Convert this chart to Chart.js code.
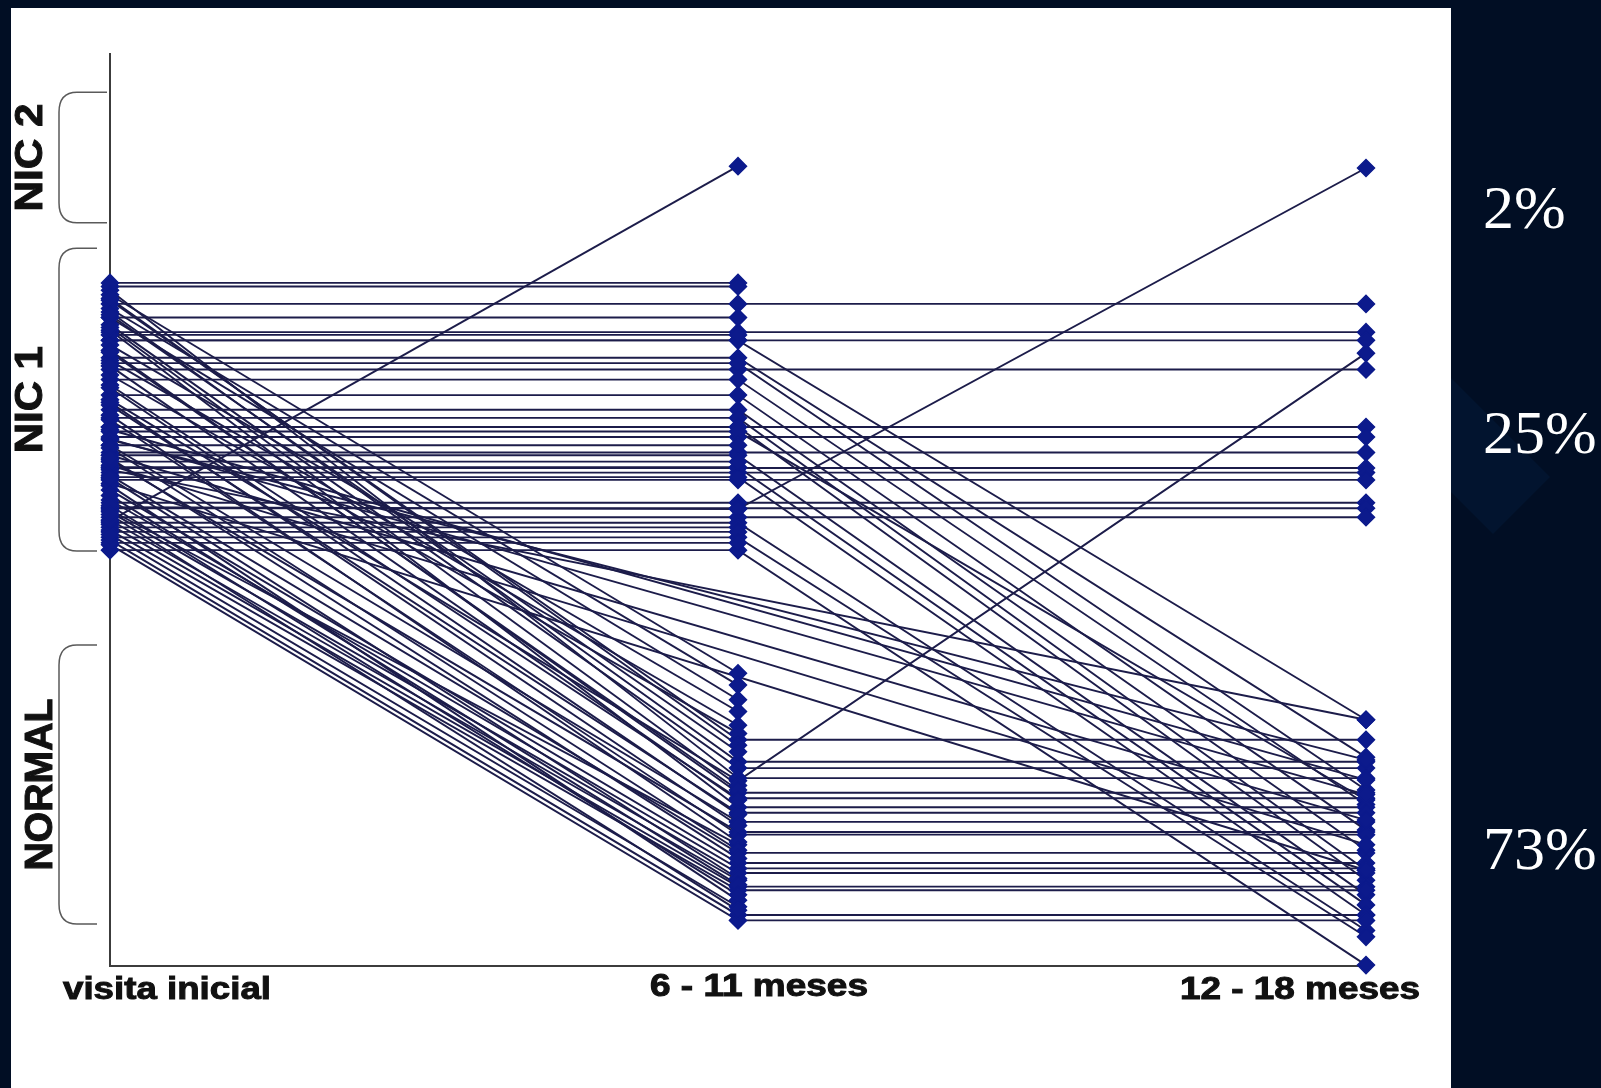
<!DOCTYPE html>
<html>
<head>
<meta charset="utf-8">
<script src="https://cdn.jsdelivr.net/npm/chart.js@4.4.0/dist/chart.umd.min.js"></script>
<style>
  html, body { margin: 0; padding: 0; width: 1601px; height: 1088px; overflow: hidden; background: #010e24; }
  #bg { position: absolute; left: 0; top: 0; }
  #panel { position: absolute; left: 11px; top: 8px; width: 1440px; height: 1080px; background: #fff; }
  #wrap { position: absolute; left: 0; top: 0; width: 1601px; height: 1088px; }
</style>
</head>
<body>
<svg id="bg" width="1601" height="1088"><polygon points="1451,378 1550,477 1493,534 1451,492" fill="#02142f"/></svg>
<div id="panel"></div>
<div id="wrap"><canvas id="chart" width="1601" height="1088"></canvas></div>

<script>
// Evolution of each patient between visits (0 = bottom of axis, 100 = top)

const VISITS = ['visita inicial', '6 - 11 meses', '12 - 18 meses'];

// one entry per patient, null = no visit
const VISITA_INICIAL = [
  72.6, 69.5, 68.6, 65.4, 59.1, 58.0, 56.3, 54.6, 54.1, 53.3, 50.8, 50.2, 49.2,
  48.8, 50.3, 62.1,
  68.6, 66.7, 66.1, 64.3, 62.6, 61.0, 60.1, 59.1, 56.0, 54.7, 53.6, 48.6, 47.0, 45.6, 58.6,
  73.0, 71.7, 70.3, 74.1, 67.5, 63.7, 69.7, 61.5, 57.1, 55.5, 59.9, 53.8, 52.2, 51.1, 49.8, 48.4, 47.8, 46.7, 46.2,
  54.4, 57.7, 58.8, 57.8, 56.0, 54.9, 52.9,
  74.9, 74.5, 71.1, 69.2, 57.1, 55.3, 48.1, 47.6, 46.4,
  73.6, 72.1, 71.1, 68.1, 66.4, 64.8, 50.0, 47.3, 48.9, 52.7,
  73.2, 71.4, 70.0, 67.3, 65.8, 63.4, 61.8, 60.4, 56.8, 55.7, 53.5, 51.6, 50.5, 49.5,
];
const MESES_6_11 = [
  72.6, 69.5, 68.6, 65.4, 59.1, 58.0, 56.3, 54.6, 54.1, 53.3, 50.8, 50.2, 49.2,
  87.7, 50.1, 20.3,
  68.6, 66.7, 66.1, 64.3, 62.6, 61.0, 60.1, 59.1, 56.0, 54.7, 53.6, 48.6, 47.0, 45.6, 58.6,
  24.8, 22.4, 21.7, 20.6, 19.0, 18.4, 17.4, 16.8, 15.8, 14.7, 14.4, 12.4, 11.3, 10.7, 10.2, 8.7, 8.3, 5.6, 5.0,
  null, null, null, null, null, null, null,
  74.9, 74.5, 71.1, 69.2, 57.1, 55.3, 48.1, 47.6, 46.4,
  32.1, 30.8, 29.2, 27.9, 26.4, 25.5, 13.3, 6.5, 9.4, 7.2,
  24.2, 23.5, 19.8, 19.3, 18.2, 16.6, 15.4, 13.6, 12.7, 11.8, 9.6, 8.9, 7.8, 6.1,
];
const MESES_12_18 = [
  72.6, 69.5, 68.6, 65.4, 59.1, 58.0, 56.3, 54.6, 54.1, 53.3, 50.8, 50.2, 49.2,
  null, 87.5, 67.2,
  27.0, 22.9, 19.3, 17.7, 14.9, 12.7, 10.5, 9.4, 7.8, 6.7, 5.6, 3.9, 3.2, 0.1, 18.2,
  24.8, 22.4, 21.7, 20.6, 19.0, 18.4, 17.4, 16.8, 15.8, 14.7, 14.4, 12.4, 11.3, 10.7, 10.2, 8.7, 8.3, 5.6, 5.0,
  27.0, 22.6, 20.4, 18.8, 16.0, 13.3, 10.5,
  null, null, null, null, null, null, null, null, null,
  null, null, null, null, null, null, null, null, null, null,
  null, null, null, null, null, null, null, null, null, null, null, null, null, null,
];

const BANDS = ['NORMAL', 'NIC 1', 'NIC 2'];
const BAND_LOW = [4.6, 45.5, 81.5];
const BAND_HIGH = [35.2, 78.7, 95.8];

const SERIES = [VISITA_INICIAL, MESES_6_11, MESES_12_18];

// share of each band at the last visit
function bandOf(v) {
  return v >= BAND_LOW[2] ? 2 : v >= BAND_LOW[1] ? 1 : 0;
}
const lastVisit = MESES_12_18.filter(v => v != null);
const SHARES = BANDS.map((_, b) =>
  Math.round(lastVisit.filter(v => bandOf(v) === b).length / lastVisit.length * 100) + '%');

const LINE_COLOR = '#1c1c4a';
const MARK_COLOR = '#0c1a8c';

// text placement (pixels)
const TICK_SHIFT = [57, 21, -66];
const TICK_BASE = [999, 996, 999];
const TICK_WIDTH = [208, 218, 240];
const BAND_TEXT_X = [38, 28, 28];
const BAND_TEXT_LEN = [172, 107, 108];
const SHARE_BASE = [869, 453, 228];

// centred text squeezed/stretched to a given width, slightly heavier stroke
function fitText(ctx, text, cx, cy, width, rot, dy) {
  const m = ctx.measureText(text).width;
  ctx.save();
  ctx.translate(cx, cy);
  if (rot) ctx.rotate(rot);
  ctx.scale(width / m, 1);
  ctx.textAlign = 'center';
  ctx.fillText(text, 0, dy || 0);
  ctx.lineWidth = 1;
  ctx.strokeStyle = ctx.fillStyle;
  ctx.strokeText(text, 0, dy || 0);
  ctx.restore();
}

const overlay = {
  id: 'overlay',
  afterDraw(chart) {
    const { ctx, scales: { x, y } } = chart;
    ctx.save();

    // x labels
    ctx.fillStyle = '#111';
    ctx.font = 'bold 32px "Liberation Sans", Arial, sans-serif';
    VISITS.forEach((t, i) => {
      fitText(ctx, t, x.getPixelForValue(i) + TICK_SHIFT[i], TICK_BASE[i], TICK_WIDTH[i]);
    });

    // band brackets + names
    BANDS.forEach((name, b) => {
      const top = y.getPixelForValue(BAND_HIGH[b]);
      const bot = y.getPixelForValue(BAND_LOW[b]);
      const right = b === 2 ? 107 : 97;
      const left = 59;
      ctx.beginPath();
      ctx.moveTo(right, top);
      ctx.lineTo(left + 18, top);
      ctx.quadraticCurveTo(left, top, left, top + 20);
      ctx.lineTo(left, bot - 20);
      ctx.quadraticCurveTo(left, bot, left + 18, bot);
      ctx.lineTo(right, bot);
      ctx.strokeStyle = '#5a5a5a';
      ctx.lineWidth = 1.5;
      ctx.stroke();

      ctx.fillStyle = '#111';
      ctx.font = 'bold 38px "Liberation Sans", Arial, sans-serif';
      fitText(ctx, name, BAND_TEXT_X[b], (top + bot) / 2, BAND_TEXT_LEN[b], -Math.PI / 2, 13.5);
    });

    // shares on the dark side
    ctx.fillStyle = '#ffffff';
    ctx.font = '62px "Liberation Serif", "Times New Roman", serif';
    ctx.textAlign = 'left';
    SHARES.forEach((s, b) => ctx.fillText(s, 1483, SHARE_BASE[b]));

    ctx.restore();
  }
};

const lineSets = VISITA_INICIAL.map((_, i) => ({
  type: 'line',
  data: SERIES.map((arr, k) => ({ x: k, y: arr[i] })),
  borderColor: LINE_COLOR,
  borderWidth: 1.9,
  pointRadius: 0,
  spanGaps: true,
  tension: 0,
  fill: false,
  clip: false,
  order: 2,
}));

const markers = [];
SERIES.forEach((arr, k) => arr.forEach(v => { if (v != null) markers.push({ x: k, y: v }); }));

const axis = {
  type: 'linear',
  grid: { display: true, drawOnChartArea: false, drawTicks: false },
  ticks: { display: false },
  border: { display: true, color: '#3c3c3c', width: 2 },
};

new Chart(document.getElementById('chart'), {
  type: 'line',
  data: {
    datasets: [
      ...lineSets,
      {
        type: 'scatter',
        data: markers,
        pointStyle: 'rectRot',
        pointRadius: 8.5,
        backgroundColor: MARK_COLOR,
        borderColor: MARK_COLOR,
        borderWidth: 1.5,
        showLine: false,
        clip: false,
        order: 1,
      },
    ],
  },
  options: {
    responsive: false,
    animation: false,
    devicePixelRatio: 1,
    layout: { padding: { left: 110, top: 54, right: 235, bottom: 122 } },
    plugins: { legend: { display: false }, tooltip: { enabled: false } },
    scales: {
      x: { ...axis, min: 0, max: 2 },
      y: { ...axis, min: 0, max: 100 },
    },
  },
  plugins: [overlay],
});
</script>
</body>
</html>
